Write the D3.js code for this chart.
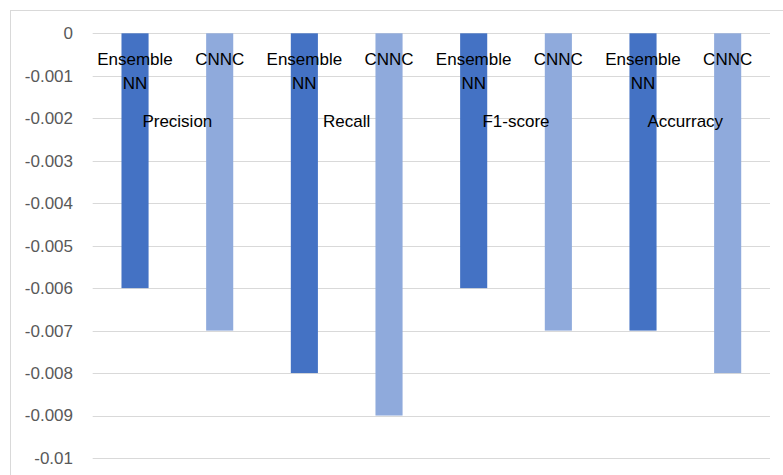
<!DOCTYPE html>
<html>
<head>
<meta charset="utf-8">
<script src="https://cdn.jsdelivr.net/npm/d3@7/dist/d3.min.js"></script>
<style>
  html, body { margin: 0; padding: 0; background: #fff; }
  svg { display: block; font-family: "Liberation Sans", Arial, sans-serif; }
</style>
</head>
<body>
<svg id="chart" width="783" height="475"></svg>
<script>
// Metric categories and the two models compared
const categories = ["Precision", "Recall", "F1-score", "Accurracy"];
const seriesNames = ["Ensemble NN", "CNNC"];
const ensembleValues = [-0.006, -0.008, -0.006, -0.007];
const cnncValues = [-0.007, -0.009, -0.007, -0.008];
const yTicks = [0, -0.001, -0.002, -0.003, -0.004, -0.005, -0.006, -0.007, -0.008, -0.009, -0.01];
const tickLabels = ["0", "-0.001", "-0.002", "-0.003", "-0.004", "-0.005", "-0.006", "-0.007", "-0.008", "-0.009", "-0.01"];

const colors = { "Ensemble NN": "#4472C4", "CNNC": "#8FAADC" };

const svg = d3.select("#chart");

// outer chart frame
svg.append("rect")
  .attr("x", 10.5).attr("y", 10.5)
  .attr("width", 800).attr("height", 500)
  .attr("fill", "#fff").attr("stroke", "#d9d9d9").attr("stroke-width", 1);

const plot = { left: 92.7, right: 770, top: 33.3, bottom: 458 };

const y = d3.scaleLinear().domain([0, -0.01]).range([plot.top, plot.bottom]);
const x0 = d3.scaleBand().domain(categories).range([plot.left, plot.right]).padding(0);
const x1 = d3.scaleBand().domain(seriesNames).range([0, x0.bandwidth()])
  .paddingInner(0.68).paddingOuter(0.34);

// gridlines
svg.append("g").selectAll("line").data(yTicks).join("line")
  .attr("x1", plot.left).attr("x2", plot.right)
  .attr("y1", d => Math.round(y(d)) + 0.5).attr("y2", d => Math.round(y(d)) + 0.5)
  .attr("stroke", "#d9d9d9").attr("stroke-width", 1);

// y axis tick labels
const yAxis = d3.axisLeft(y).tickValues(yTicks).tickSize(0).tickPadding(0)
  .tickFormat((d, i) => tickLabels[i]);
const ya = svg.append("g").attr("transform", "translate(73,0)").call(yAxis);
ya.select(".domain").remove();
ya.selectAll("text")
  .attr("fill", "#595959").style("font-size", "17px")
  .style("font-family", "'Liberation Sans', Arial, sans-serif");

// bars
const rows = categories.map((c, i) => ({
  category: c,
  values: [
    { series: "Ensemble NN", value: ensembleValues[i] },
    { series: "CNNC", value: cnncValues[i] }
  ]
}));

const groups = svg.append("g").selectAll("g").data(rows).join("g")
  .attr("transform", d => `translate(${x0(d.category)},0)`);

groups.selectAll("rect").data(d => d.values).join("rect")
  .attr("x", d => x1(d.series))
  .attr("width", x1.bandwidth())
  .attr("y", y(0))
  .attr("height", d => y(d.value) - y(0))
  .attr("fill", d => colors[d.series]);

// series labels at the top of each bar
const lineSets = { "Ensemble NN": ["Ensemble", "NN"], "CNNC": ["CNNC"] };
groups.selectAll("text.series").data(d => d.values).join("text")
  .attr("class", "series")
  .attr("text-anchor", "middle")
  .attr("fill", "#000")
  .style("font-size", "17px")
  .each(function (d) {
    const t = d3.select(this);
    const cx = x1(d.series) + x1.bandwidth() / 2;
    lineSets[d.series].forEach((ln, k) => {
      t.append("tspan").attr("x", cx).attr("y", 65 + k * 24).text(ln);
    });
  });

// category labels
groups.append("text")
  .attr("x", x0.bandwidth() / 2)
  .attr("y", 127)
  .attr("text-anchor", "middle")
  .attr("fill", "#000")
  .style("font-size", "17px")
  .text(d => d.category);
</script>
</body>
</html>
